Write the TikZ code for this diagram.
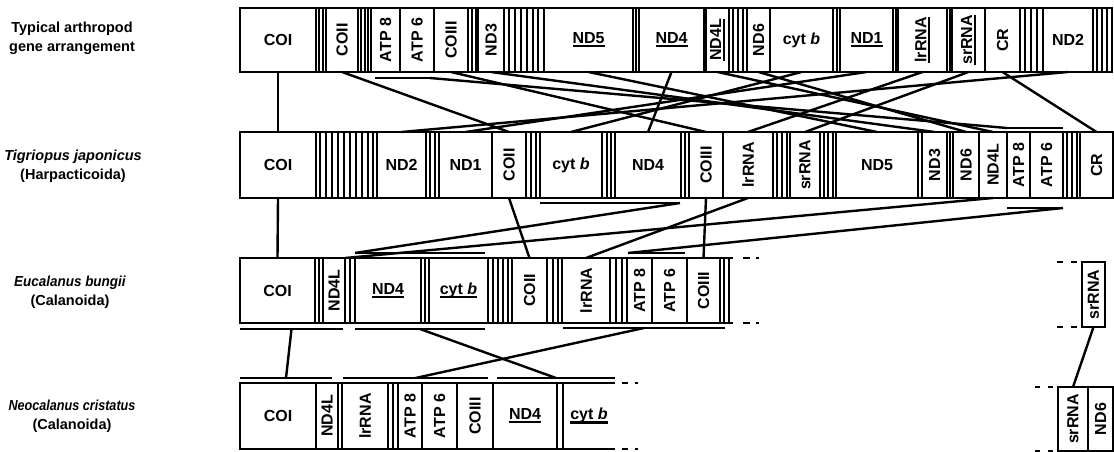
\documentclass[tikz,border=0pt]{standalone}
\usepackage{fontspec}
\setmainfont{Liberation Sans}
\usepackage{graphicx}
\newsavebox\ulbox
\newcommand\ul[1]{\sbox\ulbox{#1}\leavevmode\rlap{\raisebox{-3.8pt}{\rule{\wd\ulbox}{2.3pt}}}\usebox\ulbox}
\newcommand\rot[1]{\rotatebox{90}{#1}}
\newcommand\genefont{\fontsize{16}{16}\selectfont\bfseries}
\newcommand\labfont{\fontsize{14.5}{19}\selectfont\bfseries}
\newcommand\yt{0}
\newcommand\yb{0}
\newcommand\gene[4]{\node[gene, minimum width={(#3-#2)*1pt}, minimum height={(\yb-\yt)*1pt}] (#1) at ({(#2+#3)/2},{(\yt+\yb)/2}) {#4};}
\newcommand\ogene[4]{\node[gene, draw=none, minimum width={(#3-#2)*1pt}, minimum height={(\yb-\yt)*1pt}] (#1) at ({(#2+#3)/2},{(\yt+\yb)/2}) {#4};}
\newcommand\barr[4]{\node[barn, minimum width={(#3-#2)*1pt}] (#1) at ({(#2+#3)/2},#4) {};}
\tikzset{
  gene/.style={draw, line width=2.2pt, inner sep=0pt, outer sep=0pt, font=\genefont},
  barn/.style={fill=black, inner sep=0pt, outer sep=0pt, minimum height=2.6pt},
  trna/.style={line width=2pt},
  rowline/.style={line width=2.2pt},
  conn/.style={line width=2.4pt},
  dashl/.style={line width=2.2pt},
  lab/.style={font=\labfont, align=center}
}
\begin{document}
\begin{tikzpicture}[x=1pt,y=-1pt]
\useasboundingbox (0,0) rectangle (1114,452);
% ---------- labels
\node[lab] (l1) at (72,38) {Typical arthropod\\gene arrangement};
\node[lab] (l2) at (73,166) {\textit{Tigriopus japonicus}\\(Harpacticoida)};
\node[lab] (l3) at (70,292) {\scalebox{0.93}[1]{\textit{Eucalanus bungii}}\\(Calanoida)};
\node[lab] (l4) at (72,416) {\scalebox{0.87}[1]{\textit{Neocalanus cristatus}}\\(Calanoida)};
% ---------- row 1
\renewcommand\yt{8}\renewcommand\yb{72}
\draw[rowline] (240,8) rectangle (1112,72);
\foreach \x in {319,322.5,361,364.5,368,472,475.5,509,515,521,527,533,538,636,733,738,743,837,895.5,950,1025,1031,1037,1097,1102,1107}
  \draw[trna] (\x,\yt) -- (\x,\yb);
\gene{r1COI}{240}{316}{COI}
\gene{r1COII}{326}{358}{\rot{COII}}
\gene{r1ATP8}{371}{400}{\rot{ATP 8}}
\gene{r1ATP6}{400}{434}{\rot{ATP 6}}
\gene{r1COIII}{434}{468}{\rot{COIII}}
\gene{r1ND3}{478}{504}{\rot{ND3}}
\gene{r1ND5}{544}{633}{\ul{ND5}}
\gene{r1ND4}{639}{704}{\ul{ND4}}
\gene{r1ND4L}{706}{729}{\rot{\ul{ND4L}}}
\gene{r1ND6}{747}{770}{\rot{ND6}}
\gene{r1cytb}{770}{833}{cyt \textit{b}}
\gene{r1ND1}{840}{893}{\ul{ND1}}
\gene{r1lrRNA}{898}{947}{\rot{\ul{lrRNA}}}
\gene{r1srRNA}{952}{985}{\rot{\ul{srRNA}}}
\gene{r1CR}{985}{1020}{\rot{CR}}
\gene{r1ND2}{1043}{1093}{ND2}
\barr{r1atp}{375}{430}{78}
% ---------- row 2
\renewcommand\yt{132}\renewcommand\yb{198}
\draw[rowline] (240,132) rectangle (1113,198);
\foreach \x in {320,326,332,338,344,350,356,362,368,373,430,434.5,531,536,607,611,685,777,782,786.5,823.5,828,832.5,950,1067,1072,1076.5}
  \draw[trna] (\x,\yt) -- (\x,\yb);
\gene{r2COI}{240}{316}{COI}
\gene{r2ND2}{377}{426}{ND2}
\gene{r2ND1}{439}{492}{ND1}
\gene{r2COII}{492}{526}{\rot{COII}}
\gene{r2cytb}{540}{602}{cyt \textit{b}}
\gene{r2ND4}{615}{681}{ND4}
\gene{r2COIII}{689}{723}{\rot{COIII}}
\gene{r2lrRNA}{723}{773}{\rot{lrRNA}}
\gene{r2srRNA}{790}{820}{\rot{srRNA}}
\gene{r2ND5}{836}{918}{ND5}
\gene{r2ND3}{922}{947}{\rot{ND3}}
\gene{r2ND6}{953}{979}{\rot{ND6}}
\gene{r2ND4L}{979}{1007}{\rot{ND4L}}
\gene{r2ATP8}{1007}{1030}{\rot{ATP 8}}
\gene{r2ATP6}{1030}{1063}{\rot{ATP 6}}
\gene{r2CR}{1080}{1113}{\rot{CR}}
\barr{r2bar}{540}{680}{203}
\barr{r2atpT}{1007}{1063}{128}
\barr{r2atpB}{1007}{1063}{208}
% ---------- row 3
\renewcommand\yt{258}\renewcommand\yb{323}
\draw[rowline] (733,258) -- (240,258) -- (240,323) -- (733,323);
\foreach \x in {319,350,425,493,498,503,507.5,552.5,557.5,616,622,724,728.5}
  \draw[trna] (\x,\yt) -- (\x,\yb);
\gene{r3COI}{240}{315}{COI}
\gene{r3ND4L}{323}{345}{\rot{ND4L}}
\gene{r3ND4}{355}{421}{\ul{ND4}}
\gene{r3cytb}{429}{488}{\ul{cyt \textit{b}}}
\gene{r3COII}{512}{547}{\rot{COII}}
\gene{r3lrRNA}{562}{610}{\rot{lrRNA}}
\gene{r3ATP8}{627}{652}{\rot{ATP 8}}
\gene{r3ATP6}{652}{687}{\rot{ATP 6}}
\gene{r3COIII}{687}{720}{\rot{COIII}}
\barr{r3top1}{355}{485}{253}
\barr{r3top2}{628}{685}{253}
\barr{r3bot1}{240}{343}{329}
\barr{r3bot2}{355}{485}{329}
\barr{r3bot3}{563}{725}{328}
\foreach \y in {258,323} {\draw[dashl] (743,\y) -- (750,\y); \draw[dashl] (756,\y) -- (759,\y);}
\renewcommand\yt{262}\renewcommand\yb{327}
\gene{r3srRNA}{1082}{1105}{\rot{srRNA}}
\foreach \y in {262,327} {\draw[dashl] (1057,\y) -- (1063,\y); \draw[dashl] (1071,\y) -- (1077,\y);}
% ---------- row 4
\renewcommand\yt{383}\renewcommand\yb{449}
\draw[rowline] (615,383) -- (240,383) -- (240,449) -- (615,449);
\foreach \x in {393,563}
  \draw[trna] (\x,\yt) -- (\x,\yb);
\gene{r4COI}{240}{316}{COI}
\gene{r4ND4L}{316}{338}{\rot{ND4L}}
\gene{r4lrRNA}{342}{388}{\rot{lrRNA}}
\gene{r4ATP8}{398}{422}{\rot{ATP 8}}
\gene{r4ATP6}{422}{457}{\rot{ATP 6}}
\gene{r4COIII}{457}{493}{\rot{COIII}}
\gene{r4ND4}{493}{557}{\ul{ND4}}
\ogene{r4cytb}{563}{615}{\ul{cyt \textit{b}}}
\barr{r4top1}{240}{332}{378}
\barr{r4top2}{343}{488}{378}
\barr{r4top3}{497}{615}{378}
\foreach \y in {383,449} {\draw[dashl] (622,\y) -- (628,\y); \draw[dashl] (635,\y) -- (638,\y);}
\renewcommand\yt{387}\renewcommand\yb{451}
\gene{r4srRNA}{1058}{1088}{\rot{srRNA}}
\gene{r4ND6}{1088}{1113}{\rot{ND6}}
\foreach \y in {387,451} {\draw[dashl] (1035,\y) -- (1040,\y); \draw[dashl] (1048,\y) -- (1053,\y);}
% ---------- connectors row 1 -> row 2
\draw[conn] (r1COI.south) -- (r2COI.north);
\draw[conn] (r1COII.south) -- (r2COII.north);
\draw[conn] (r1atp.east) -- (r2atpT.west);
\draw[conn] (r1COIII.south) -- (r2COIII.north);
\draw[conn] (r1ND3.south) -- (r2ND3.north);
\draw[conn] (r1ND5.south) -- (r2ND5.north);
\draw[conn] (r1ND4.south) -- (r2ND4.north);
\draw[conn] (r1ND4L.south) -- (r2ND4L.north);
\draw[conn] (r1ND6.south) -- (r2ND6.north);
\draw[conn] (r1cytb.south) -- (r2cytb.north);
\draw[conn] (r1ND1.south) -- (r2ND1.north);
\draw[conn] (r1lrRNA.south) -- (r2lrRNA.north);
\draw[conn] (r1srRNA.south) -- (r2srRNA.north);
\draw[conn] (r1CR.south) -- (r2CR.north);
\draw[conn] (r1ND2.south) -- (r2ND2.north);
% ---------- connectors row 2 -> row 3
\draw[conn] (r2COI.south) -- (r3COI.north);
\draw[conn] (r2ND4L.south) -- (r3ND4L.north east);
\draw[conn] (r2bar.east) -- (r3top1.west);
\draw[conn] (r2COII.south) -- (r3COII.north);
\draw[conn] (r2lrRNA.south) -- (r3lrRNA.north);
\draw[conn] (r2atpB.east) -- (r3top2.west);
\draw[conn] (r2COIII.south) -- (r3COIII.north);
% ---------- connectors row 3 -> row 4
\draw[conn] (r3bot1.center) -- (r4top1.center);
\draw[conn] (r3bot2.center) -- (r4top3.center);
\draw[conn] (r3bot3.center) -- (r4top2.center);
\draw[conn] (r3srRNA.south) -- (r4srRNA.north);
\end{tikzpicture}
\end{document}
